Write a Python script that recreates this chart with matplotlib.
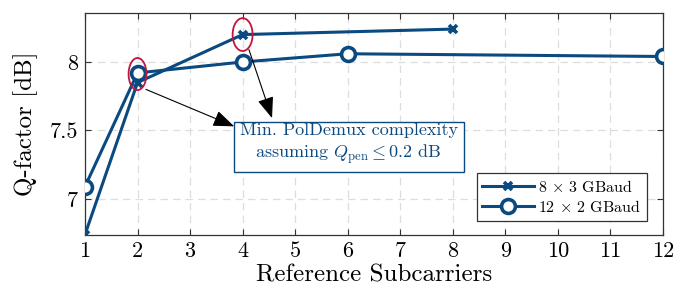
import matplotlib
matplotlib.use("Agg")
import matplotlib.pyplot as plt
from matplotlib.patches import Ellipse

plt.rcParams['font.family'] = 'serif'
plt.rcParams['font.serif'] = ['cmr10', 'DejaVu Serif']
plt.rcParams['mathtext.fontset'] = 'cm'
plt.rcParams['axes.formatter.use_mathtext'] = True

x_8x3 = [1, 2, 4, 8]
q_8x3 = [6.74, 7.85, 8.20, 8.24]
x_12x2 = [1, 2, 4, 6, 12]
q_12x2 = [7.09, 7.92, 8.00, 8.06, 8.04]
labels = [r'$8\,\times\,3$ GBaud', r'$12\,\times\,2$ GBaud']
xticks = list(range(1, 13))
yticks = [7, 7.5, 8]

blue = '#0b4a80'
red = '#c0163c'

fig = plt.figure(figsize=(6.88, 3.04), dpi=100)
ax = fig.add_axes([0.1235, 0.227, 0.8402, 0.730])

ax.plot(x_8x3, q_8x3, color=blue, lw=2.2, marker='x', ms=6, mew=2.6, label=labels[0], zorder=3)
ax.plot(x_12x2, q_12x2, color=blue, lw=2.2, marker='o', ms=10, mew=2.6, mfc='white', label=labels[1], zorder=3)

ax.set_xlim(1, 12)
ax.set_ylim(6.737, 8.357)
ax.set_xticks(xticks)
ax.set_xticklabels([str(t) for t in xticks])
ax.set_yticks(yticks)
ax.set_yticklabels(['7', '7.5', '8'])
ax.tick_params(direction='in', top=True, right=True, labelsize=16, length=4, color='#333333', pad=5)
ax.grid(True, ls=(0, (6, 4)), color='#dddddd', lw=0.9)
for s in ax.spines.values():
    s.set_color('#333333')
    s.set_linewidth(0.9)
ax.set_xlabel('Reference Subcarriers', fontsize=18, labelpad=2)
ax.set_ylabel('Q-factor [dB]', fontsize=18, labelpad=8)

# ellipses (positions in data coords)
e1 = Ellipse((2, 7.912), width=0.34, height=0.234, fill=False, ec=red, lw=1.3, zorder=4)
e2 = Ellipse((4, 8.20), width=0.38, height=0.24, fill=False, ec=red, lw=1.3, zorder=4)
ax.add_patch(e1)
ax.add_patch(e2)

txt = 'Min. PolDemux complexity\nassuming $Q_{\\mathrm{pen}}\\leq 0.2$ dB'
ax.text(6.02, 7.40, txt, ha='center', va='center', fontsize=13, color=blue,
        linespacing=1.25,
        bbox=dict(boxstyle='square,pad=0.33', fc='white', ec=blue, lw=1.0), zorder=5)

arrow = dict(arrowstyle='-|>,head_length=1.3,head_width=0.5', color='black', lw=0.8,
             shrinkA=0, shrinkB=0)
ax.annotate('', xy=(3.84, 7.53), xytext=(2.16, 7.80), arrowprops=arrow, zorder=6)
ax.annotate('', xy=(4.56, 7.59), xytext=(4.12, 8.09), arrowprops=arrow, zorder=6)

leg = ax.legend(loc='lower right', fontsize=11.5, frameon=True, fancybox=False,
                edgecolor='#333333', framealpha=1, handlelength=3.2,
                borderaxespad=0.9, labelspacing=0.25, handletextpad=0.3,
                borderpad=0.35, bbox_to_anchor=(0.997, 0.0))
leg.get_frame().set_linewidth(0.9)

fig.savefig('out.png', dpi=100)
